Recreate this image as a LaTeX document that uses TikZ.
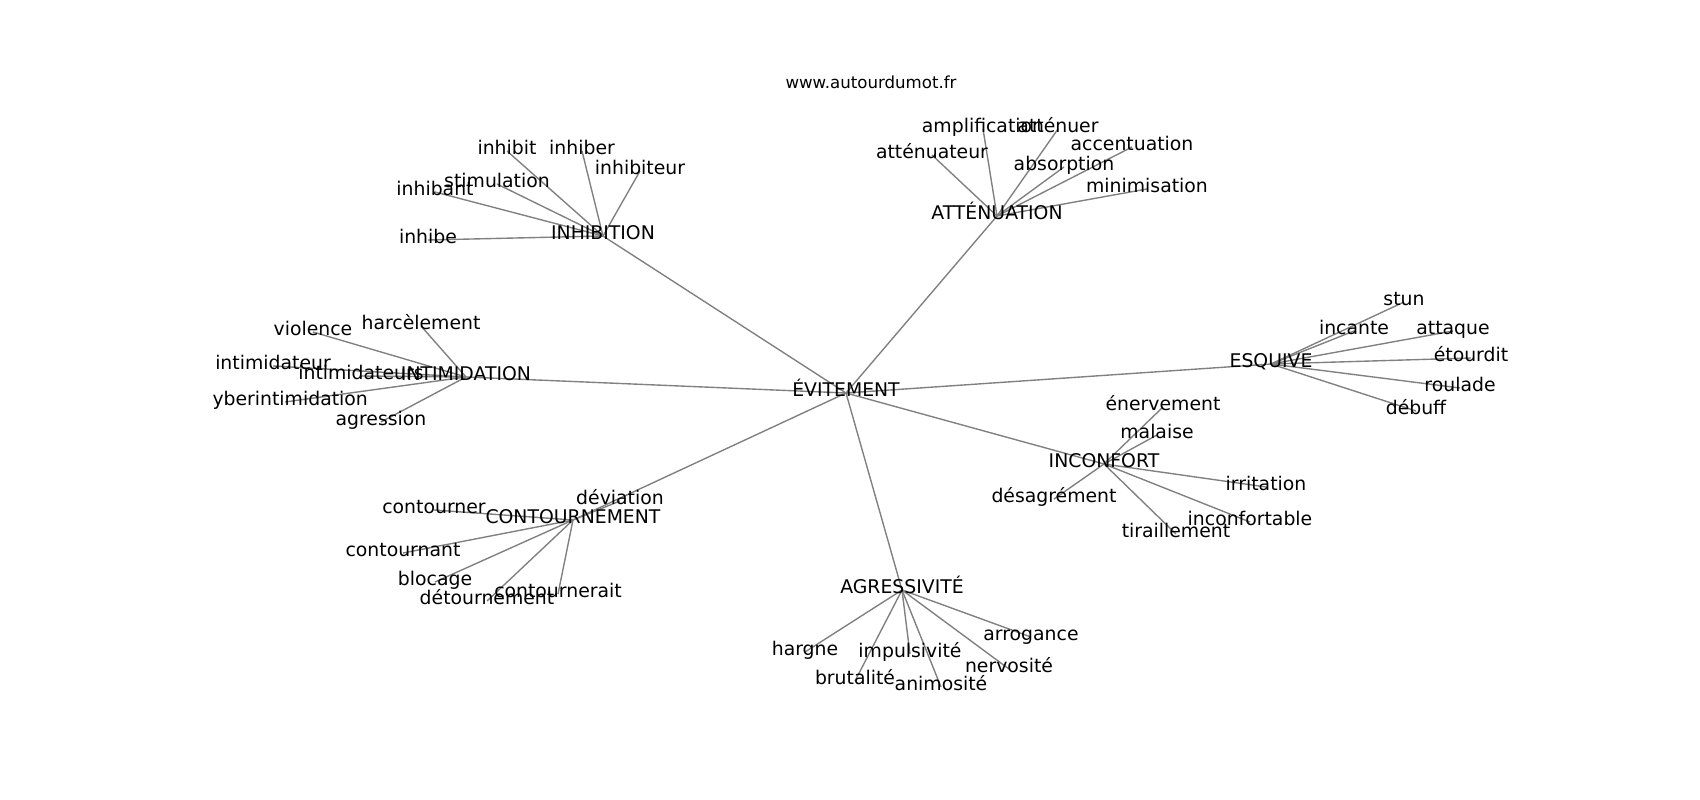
\documentclass[tikz,border=0pt]{standalone}
\usepackage{fontspec}
\setmainfont{DejaVu Sans}
\usetikzlibrary{backgrounds}
\tikzset{
  word/.style={inner sep=0pt, text height=0.76em, text depth=0.24em,
    font=\fontsize{13.6}{16}\selectfont},
  link/.style={color=gray, line width=1pt}
}
\begin{document}
\begin{tikzpicture}[x=0.01in, y=-0.01in]
      \useasboundingbox (0,0) rectangle (1700,800);
      \node[word, font=\fontsize{12}{14}\selectfont] (site) at (871,85) {www.autourdumot.fr};
      \begin{scope}
      \clip (212.5,96) rectangle (1530,712);
      \draw
        (846,393) node[word] (evit){ÉVITEMENT}
        (603,236) node[word] (inhib){INHIBITION}
        (507,151) node[word] (inhibit){inhibit}
        (582,151) node[word] (inhiber){inhiber}
        (640,171) node[word] (inhibiteur){inhibiteur}
        (497,184) node[word] (stimul){stimulation}
        (435,192) node[word] (inhibant){inhibant}
        (428,240) node[word] (inhibe){inhibe}
        (997,216) node[word] (atten){ATTÉNUATION}
        (983,129) node[word] (amplif){amplification}
        (1058,129) node[word] (attenuer){atténuer}
        (932,155) node[word] (attenuat){atténuateur}
        (1132,147) node[word] (accent){accentuation}
        (1064,167) node[word] (absorp){absorption}
        (1147,189) node[word] (minim){minimisation}
        (1271,364) node[word] (esquive){ESQUIVE}
        (1404,302) node[word] (stun){stun}
        (1354,331) node[word] (incante){incante}
        (1453,331) node[word] (attaque){attaque}
        (1471,358) node[word] (etourdit){étourdit}
        (1460,388) node[word] (roulade){roulade}
        (1416,411) node[word] (debuff){débuff}
        (1104,464) node[word] (inconf){INCONFORT}
        (1163,407) node[word] (enerv){énervement}
        (1157,435) node[word] (malaise){malaise}
        (1266,487) node[word] (irrit){irritation}
        (1054,499) node[word] (desagr){désagrément}
        (1250,522) node[word] (inconfort){inconfortable}
        (1176,534) node[word] (tirail){tiraillement}
        (902,590) node[word] (agress){AGRESSIVITÉ}
        (1031,637) node[word] (arrog){arrogance}
        (805,652) node[word] (hargne){hargne}
        (910,654) node[word] (impuls){impulsivité}
        (1009,669) node[word] (nervos){nervosité}
        (855,681) node[word] (brutal){brutalité}
        (941,687) node[word] (animos){animosité}
        (573,520) node[word] (contour){CONTOURNEMENT}
        (620,501) node[word] (deviation){déviation}
        (434,510) node[word] (contourner){contourner}
        (403,553) node[word] (contournant){contournant}
        (435,582) node[word] (blocage){blocage}
        (558,594) node[word] (contournerait){contournerait}
        (487,601) node[word] (detourn){détournement}
        (466,377) node[word] (intim){INTIMIDATION}
        (313,332) node[word] (violence){violence}
        (421,326) node[word] (harcel){harcèlement}
        (273,366) node[word] (intimidateur){intimidateur}
        (361,376) node[word] (intimidateurs){intimidateurs}
        (285,402) node[word] (cyber){cyberintimidation}
        (381,422) node[word] (agression){agression};
      \begin{scope}[on background layer={link}]
        \draw (evit.center) to (inhib.center);
        \draw (evit.center) to (atten.center);
        \draw (evit.center) to (esquive.center);
        \draw (evit.center) to (inconf.center);
        \draw (evit.center) to (agress.center);
        \draw (evit.center) to (contour.center);
        \draw (evit.center) to (intim.center);
        \draw (inhib.center) to (inhibit.center);
        \draw (inhib.center) to (inhiber.center);
        \draw (inhib.center) to (inhibiteur.center);
        \draw (inhib.center) to (stimul.center);
        \draw (inhib.center) to (inhibant.center);
        \draw (inhib.center) to (inhibe.center);
        \draw (atten.center) to (amplif.center);
        \draw (atten.center) to (attenuer.center);
        \draw (atten.center) to (attenuat.center);
        \draw (atten.center) to (accent.center);
        \draw (atten.center) to (absorp.center);
        \draw (atten.center) to (minim.center);
        \draw (esquive.center) to (stun.center);
        \draw (esquive.center) to (incante.center);
        \draw (esquive.center) to (attaque.center);
        \draw (esquive.center) to (etourdit.center);
        \draw (esquive.center) to (roulade.center);
        \draw (esquive.center) to (debuff.center);
        \draw (inconf.center) to (enerv.center);
        \draw (inconf.center) to (malaise.center);
        \draw (inconf.center) to (irrit.center);
        \draw (inconf.center) to (desagr.center);
        \draw (inconf.center) to (inconfort.center);
        \draw (inconf.center) to (tirail.center);
        \draw (agress.center) to (arrog.center);
        \draw (agress.center) to (hargne.center);
        \draw (agress.center) to (impuls.center);
        \draw (agress.center) to (nervos.center);
        \draw (agress.center) to (brutal.center);
        \draw (agress.center) to (animos.center);
        \draw (contour.center) to (deviation.center);
        \draw (contour.center) to (contourner.center);
        \draw (contour.center) to (contournant.center);
        \draw (contour.center) to (blocage.center);
        \draw (contour.center) to (contournerait.center);
        \draw (contour.center) to (detourn.center);
        \draw (intim.center) to (violence.center);
        \draw (intim.center) to (harcel.center);
        \draw (intim.center) to (intimidateur.center);
        \draw (intim.center) to (intimidateurs.center);
        \draw (intim.center) to (cyber.center);
        \draw (intim.center) to (agression.center);
      \end{scope}
      \end{scope}
    \end{tikzpicture}
\end{document}
